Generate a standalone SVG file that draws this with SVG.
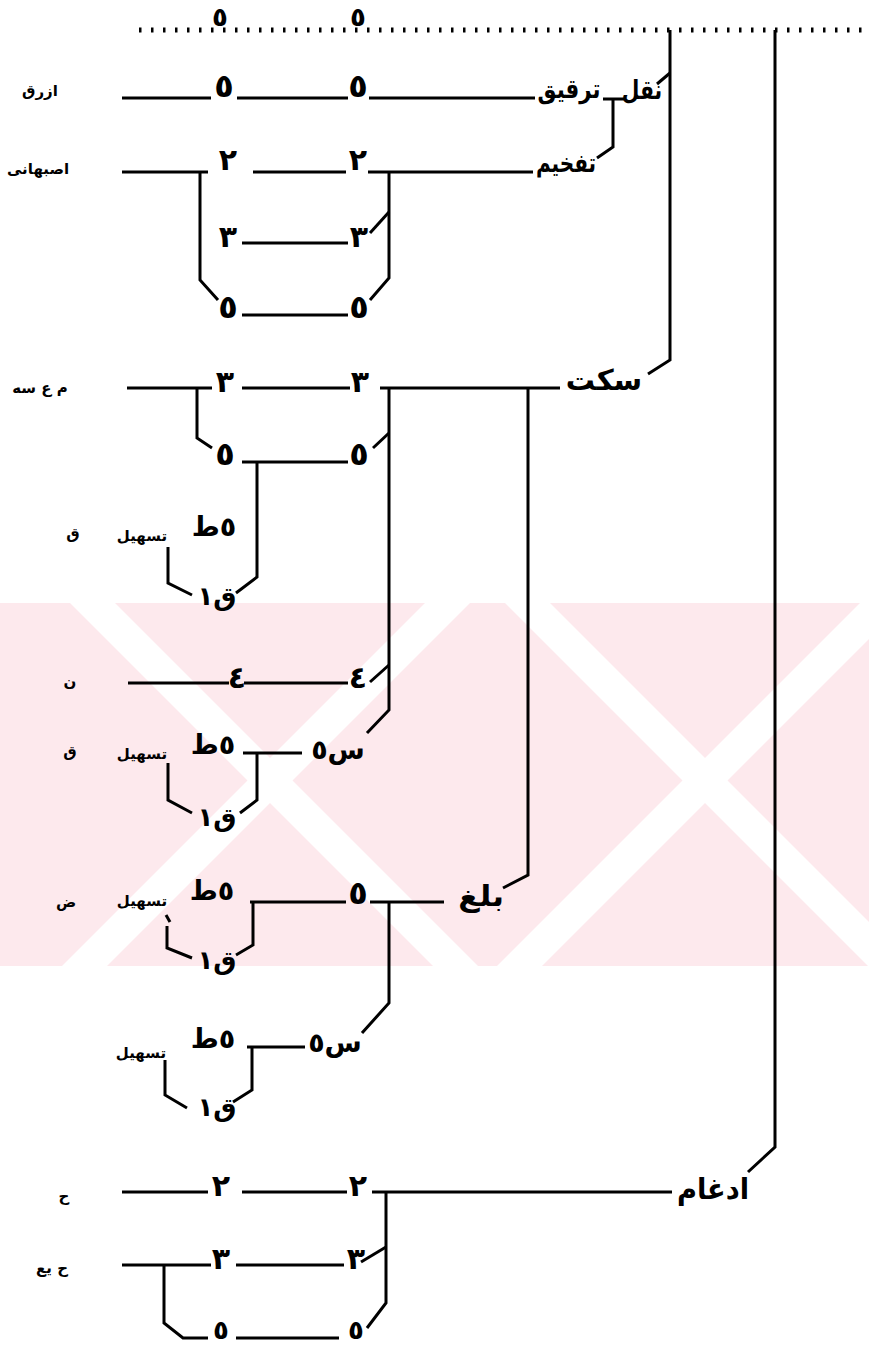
<svg xmlns="http://www.w3.org/2000/svg" width="869" height="1346" viewBox="0 0 869 1346">
<style>
.ln{stroke:#000;stroke-width:3;fill:none;stroke-linejoin:miter}
.dot{stroke:#000;stroke-width:5;fill:none;stroke-dasharray:2.5 9.5}
text{font-family:"DejaVu Sans","Noto Sans",sans-serif;font-weight:bold;fill:#000;text-anchor:middle}
.big{font-size:26px}
.dig{font-size:30px}
.five{font-size:32px}
.fivs{font-size:26px}
.mid{font-size:27px}
.sm{font-size:15px}
.wm{fill:#fff}
</style>
<rect width="869" height="1346" fill="#fff"/>
<g id="watermark">
<rect x="0" y="603" width="869" height="363" fill="#fde9ed"/>
<polygon class="wm" points="70,603 115,603 478,966 433,966"/>
<polygon class="wm" points="505,603 550,603 913,966 868,966"/>
<polygon class="wm" points="425,603 470,603 107,966 62,966"/>
<polygon class="wm" points="860,603 905,603 542,966 497,966"/>
</g>
<g id="connectors">
<line class="dot" x1="139" y1="30" x2="869" y2="30"/>
<polyline class="ln" points="670,30 670,360 648,374"/>
<line class="ln" x1="670" y1="73" x2="657" y2="84"/>
<polyline class="ln" points="775,30 775,1147 748,1172"/>
<line class="ln" x1="122" y1="98" x2="211" y2="98"/>
<line class="ln" x1="237" y1="98" x2="348" y2="98"/>
<line class="ln" x1="369" y1="98" x2="535" y2="98"/>
<line class="ln" x1="603" y1="99" x2="624" y2="99"/>
<polyline class="ln" points="613,99 613,147 597,158"/>
<line class="ln" x1="122" y1="172" x2="208" y2="172"/>
<polyline class="ln" points="200,172 200,280 218,300"/>
<line class="ln" x1="253" y1="172" x2="346" y2="172"/>
<line class="ln" x1="368" y1="172" x2="533" y2="172"/>
<polyline class="ln" points="389,172 389,278 370,300"/>
<line class="ln" x1="389" y1="212" x2="370" y2="233"/>
<line class="ln" x1="242" y1="243" x2="348" y2="243"/>
<line class="ln" x1="242" y1="315" x2="348" y2="315"/>
<line class="ln" x1="127" y1="388" x2="212" y2="388"/>
<polyline class="ln" points="197,388 197,438 212,448"/>
<line class="ln" x1="242" y1="388" x2="350" y2="388"/>
<line class="ln" x1="380" y1="388" x2="560" y2="388"/>
<polyline class="ln" points="389,388 389,710 367,733"/>
<line class="ln" x1="389" y1="433" x2="373" y2="448"/>
<line class="ln" x1="389" y1="665" x2="370" y2="682"/>
<polyline class="ln" points="528,388 528,875 503,888"/>
<line class="ln" x1="242" y1="462" x2="348" y2="462"/>
<polyline class="ln" points="257,462 257,577 236,593"/>
<polyline class="ln" points="168,547 168,583 192,595"/>
<line class="ln" x1="128" y1="683" x2="229" y2="683"/>
<line class="ln" x1="244" y1="683" x2="348" y2="683"/>
<line class="ln" x1="243" y1="753" x2="302" y2="753"/>
<polyline class="ln" points="257,753 257,800 240,813"/>
<polyline class="ln" points="168,763 168,800 192,813"/>
<line class="ln" x1="250" y1="902" x2="346" y2="902"/>
<line class="ln" x1="370" y1="902" x2="444" y2="902"/>
<polyline class="ln" points="253,902 253,945 236,955"/>
<line class="ln" x1="166" y1="915" x2="170" y2="922"/>
<polyline class="ln" points="167,926 167,948 192,958"/>
<polyline class="ln" points="389,902 389,1003 362,1033"/>
<line class="ln" x1="247" y1="1047" x2="305" y2="1047"/>
<polyline class="ln" points="252,1047 252,1090 233,1102"/>
<polyline class="ln" points="165,1060 165,1095 187,1108"/>
<line class="ln" x1="122" y1="1192" x2="208" y2="1192"/>
<line class="ln" x1="242" y1="1192" x2="347" y2="1192"/>
<line class="ln" x1="372" y1="1192" x2="672" y2="1192"/>
<polyline class="ln" points="386,1192 386,1303 367,1328"/>
<line class="ln" x1="386" y1="1247" x2="361" y2="1262"/>
<line class="ln" x1="122" y1="1265" x2="211" y2="1265"/>
<line class="ln" x1="236" y1="1265" x2="344" y2="1265"/>
<polyline class="ln" points="164,1265 164,1323 183,1338 208,1338"/>
<line class="ln" x1="236" y1="1338" x2="339" y2="1338"/>
</g>
<g id="top">
<text class="fivs" x="220" y="26">٥</text>
<text class="fivs" x="358" y="26">٥</text>
</g>
<g id="naql"><text class="big" transform="translate(642,99) scale(0.78,1)">نقل</text></g>
<g id="tarqiq"><text class="big" transform="translate(569,98) scale(0.82,1)">ترقيق</text></g>
<g id="tafkhim"><text class="big" transform="translate(566,172) scale(0.77,1)">تفخيم</text></g>
<g id="sakt"><text class="big" transform="translate(604,390) scale(1.12,1.1)">سكت</text></g>
<g id="balagh"><text class="big" transform="translate(481,906) scale(1.2,1.1)">بلغ</text></g>
<g id="idgham"><text class="big" transform="translate(713,1199) scale(1.05,1.1)">ادغام</text></g>
<g id="row-azraq">
<text class="sm" x="40" y="96">ازرق</text>
<text class="five" x="224" y="97">٥</text>
<text class="five" x="358" y="97">٥</text>
</g>
<g id="row-isbahani">
<text class="sm" x="38" y="174">اصبهانى</text>
<text class="dig" x="228" y="170">٢</text>
<text class="dig" x="358" y="170">٢</text>
<text class="dig" x="228" y="247">٣</text>
<text class="dig" x="359" y="247">٣</text>
<text class="five" x="228" y="318">٥</text>
<text class="five" x="359" y="318">٥</text>
</g>
<g id="row-mas">
<text class="sm" x="40" y="393">م ع سه</text>
<text class="dig" x="225" y="392">٣</text>
<text class="dig" x="360" y="392">٣</text>
<text class="five" x="225" y="465">٥</text>
<text class="five" x="359" y="465">٥</text>
</g>
<g id="block-a">
<text class="sm" x="73" y="539">ق</text>
<text class="sm" x="142" y="541">تسهيل</text>
<text class="mid" x="214" y="536">٥ط</text>
<text class="big" x="217" y="605">ق١</text>
</g>
<g id="row-nun">
<text class="sm" x="70" y="687">ن</text>
<text class="dig" x="237" y="688">٤</text>
<text class="dig" x="358" y="688">٤</text>
</g>
<g id="block-b">
<text class="sm" x="70" y="757">ق</text>
<text class="sm" x="142" y="759">تسهيل</text>
<text class="mid" x="213" y="754">٥ط</text>
<text class="mid" x="338" y="759">س٥</text>
<text class="big" x="217" y="826">ق١</text>
</g>
<g id="block-c">
<text class="sm" x="66" y="907">ض</text>
<text class="sm" x="142" y="906">تسهيل</text>
<text class="mid" x="212" y="900">٥ط</text>
<text class="five" x="358" y="904">٥</text>
<text class="big" x="217" y="969">ق١</text>
</g>
<g id="block-d">
<text class="sm" x="141" y="1058">تسهيل</text>
<text class="mid" x="213" y="1048">٥ط</text>
<text class="mid" x="335" y="1052">س٥</text>
<text class="big" x="217" y="1116">ق١</text>
</g>
<g id="row-ha">
<text class="sm" x="64" y="1201">ح</text>
<text class="dig" x="221" y="1196">٢</text>
<text class="dig" x="358" y="1196">٢</text>
</g>
<g id="row-haya">
<text class="sm" x="52" y="1273">ح يع</text>
<text class="dig" x="221" y="1269">٣</text>
<text class="dig" x="356" y="1269">٣</text>
<text class="fivs" x="221" y="1339">٥</text>
<text class="fivs" x="356" y="1339">٥</text>
</g>
</svg>
